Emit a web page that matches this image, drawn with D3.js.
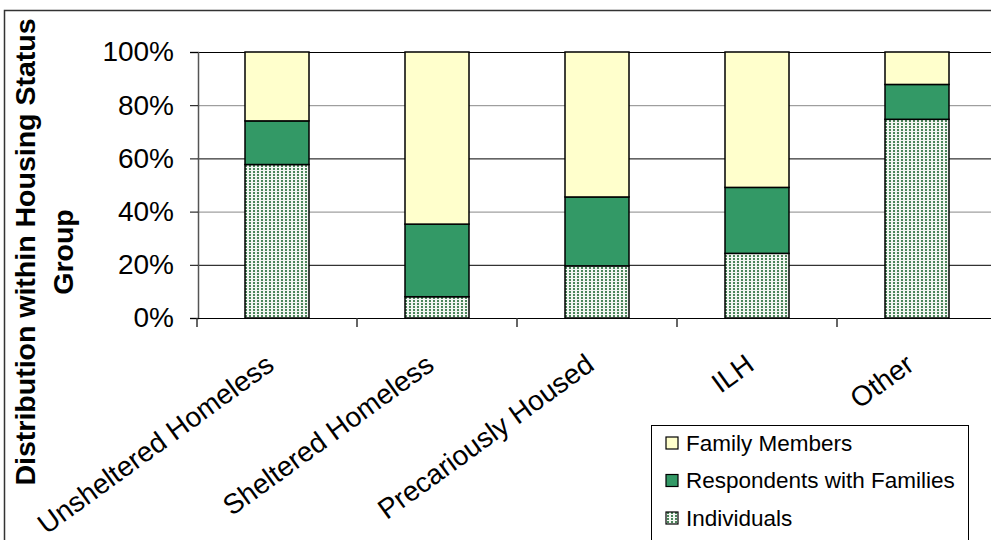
<!DOCTYPE html>
<html>
<head>
<meta charset="utf-8">
<script src="https://cdn.jsdelivr.net/npm/d3@7"></script>
<style>
  body { margin: 0; background: #fff; }
  text { font-family: "Liberation Sans", Arial, Helvetica, sans-serif; fill: #000; }
</style>
</head>
<body>
<div class="chart"></div>
<script>
// data (percent of each housing status group)
var categories = ["Unsheltered Homeless", "Sheltered Homeless", "Precariously Housed", "ILH", "Other"];
var individuals = [57.7, 8.0, 19.6, 24.3, 74.7];
var respondents = [16.4, 27.3, 25.9, 24.8, 13.1];
var familyMembers = [25.9, 64.7, 54.5, 50.9, 12.2];
var seriesKeys = ["individuals", "respondents", "family"];
var legendLabels = ["Family Members", "Respondents with Families", "Individuals"];
var yTicks = [0, 20, 40, 60, 80, 100];

var svgWidth = 991;
var svgHeight = 540;

var plotLeft = 198, plotRight = 998, plotTop = 52, plotBottom = 318;

var svg = d3.select(".chart")
  .append("svg")
  .attr("width", svgWidth)
  .attr("height", svgHeight);

// dotted fill for Individuals
var defs = svg.append("defs");
var pat = defs.append("pattern")
  .attr("id", "dots")
  .attr("patternUnits", "userSpaceOnUse")
  .attr("width", 4)
  .attr("height", 3);
pat.append("rect").attr("width", 4).attr("height", 3).attr("fill", "#f2f6f2");
pat.append("rect").attr("x", 1).attr("y", 0).attr("width", 2).attr("height", 2).attr("fill", "#4a8559");

// outer frame
svg.append("rect")
  .attr("x", 4.5).attr("y", 10.5)
  .attr("width", 1000).attr("height", 600)
  .attr("fill", "none")
  .attr("stroke", "#333")
  .attr("stroke-width", 1.5);

var rows = categories.map(function(c, i) {
  return { cat: c, individuals: individuals[i], respondents: respondents[i], family: familyMembers[i] };
});

var stack = d3.stack().keys(seriesKeys)
  .offset(d3.stackOffsetExpand);
var layers = stack(rows);

var x = d3.scaleBand()
  .domain(categories)
  .range([plotLeft - 1, plotRight - 1])
  .paddingInner(0.6)
  .paddingOuter(0.3);

var y = d3.scaleLinear()
  .domain([0, 1])
  .range([plotBottom, plotTop]);

// gridlines
var grid = svg.append("g")
  .attr("transform", "translate(" + plotLeft + ",0)")
  .call(d3.axisLeft(y).tickValues(yTicks.map(function(t) { return t / 100; }))
    .tickSize(-(plotRight - plotLeft)).tickFormat(""));
grid.select(".domain").remove();
grid.selectAll(".tick line")
  .attr("stroke", function(d, i) { return i % 2 === 0 ? "#888" : "#000"; })
  .attr("stroke-width", 1);

var fills = { individuals: "url(#dots)", respondents: "#339966", family: "#ffffcc" };

svg.append("g").selectAll("g")
  .data(layers)
  .enter().append("g")
    .attr("fill", function(d) { return fills[d.key]; })
  .selectAll("rect")
  .data(function(d) { return d; })
  .enter().append("rect")
    .attr("x", function(d) { return x(d.data.cat); })
    .attr("y", function(d) { return y(d[1]); })
    .attr("height", function(d) { return y(d[0]) - y(d[1]); })
    .attr("width", x.bandwidth())
    .attr("stroke", "#000")
    .attr("stroke-width", 1.5);

// y axis
var yAxis = svg.append("g")
  .attr("transform", "translate(" + plotLeft + ",0)")
  .call(d3.axisLeft(y).tickValues(yTicks.map(function(t) { return t / 100; }))
    .tickSize(8).tickPadding(16)
    .tickFormat(function(d) { return Math.round(d * 100) + "%"; }));
yAxis.select(".domain").attr("stroke", "#555").attr("stroke-width", 1.5);
yAxis.selectAll(".tick line").attr("stroke", "#000");
yAxis.selectAll("text").style("font-size", "28px");

// x axis
var xAxis = svg.append("g")
  .attr("transform", "translate(0," + plotBottom + ")")
  .call(d3.axisBottom(x).tickSize(0).tickFormat(function(d) { return d; }));
xAxis.select(".domain")
  .attr("d", "M" + (plotLeft - 8) + ",0.5H" + plotRight)
  .attr("stroke", "#000");
xAxis.selectAll("text")
  .style("font-size", "28px")
  .attr("text-anchor", "end")
  .attr("dy", 0)
  .attr("transform", "translate(-3,48) rotate(-36)");

// category boundary ticks
var bounds = categories.map(function(c) { return x(c) - (x.step() - x.bandwidth()) / 2; });
xAxis.selectAll(".bound")
  .data(bounds)
  .enter().append("line")
    .attr("class", "bound")
    .attr("x1", function(d) { return d; })
    .attr("x2", function(d) { return d; })
    .attr("y1", 0).attr("y2", 9)
    .attr("stroke", "#333")
    .attr("stroke-width", 1.5);

// y title
var yTitle = svg.append("text")
  .attr("transform", "translate(35,252) rotate(-90)")
  .attr("text-anchor", "middle")
  .style("font-size", "28.5px")
  .style("font-weight", "bold");
yTitle.append("tspan").attr("x", 0).attr("y", 0).text("Distribution within Housing Status");
yTitle.append("tspan").attr("x", 0).attr("y", 38).text("Group");

// legend
var legend = svg.append("g").attr("transform", "translate(651,425)");
legend.append("rect")
  .attr("x", 0.5).attr("y", 0.5)
  .attr("width", 317).attr("height", 200)
  .attr("fill", "#fff")
  .attr("stroke", "#000");

var legendFills = ["#ffffcc", "#339966", "url(#dots)"];
var item = legend.selectAll(".item")
  .data(legendLabels)
  .enter().append("g")
    .attr("class", "item")
    .attr("transform", function(d, i) { return "translate(15," + (18 + i * 37.5) + ")"; });
item.append("rect")
  .attr("x", 0).attr("y", -6)
  .attr("width", 12).attr("height", 12)
  .attr("fill", function(d, i) { return legendFills[i]; })
  .attr("stroke", "#000")
  .attr("stroke-width", 1.2);
item.append("text")
  .attr("x", 20)
  .attr("dy", "0.35em")
  .style("font-size", "22.5px")
  .text(function(d) { return d; });
</script>
</body>
</html>
